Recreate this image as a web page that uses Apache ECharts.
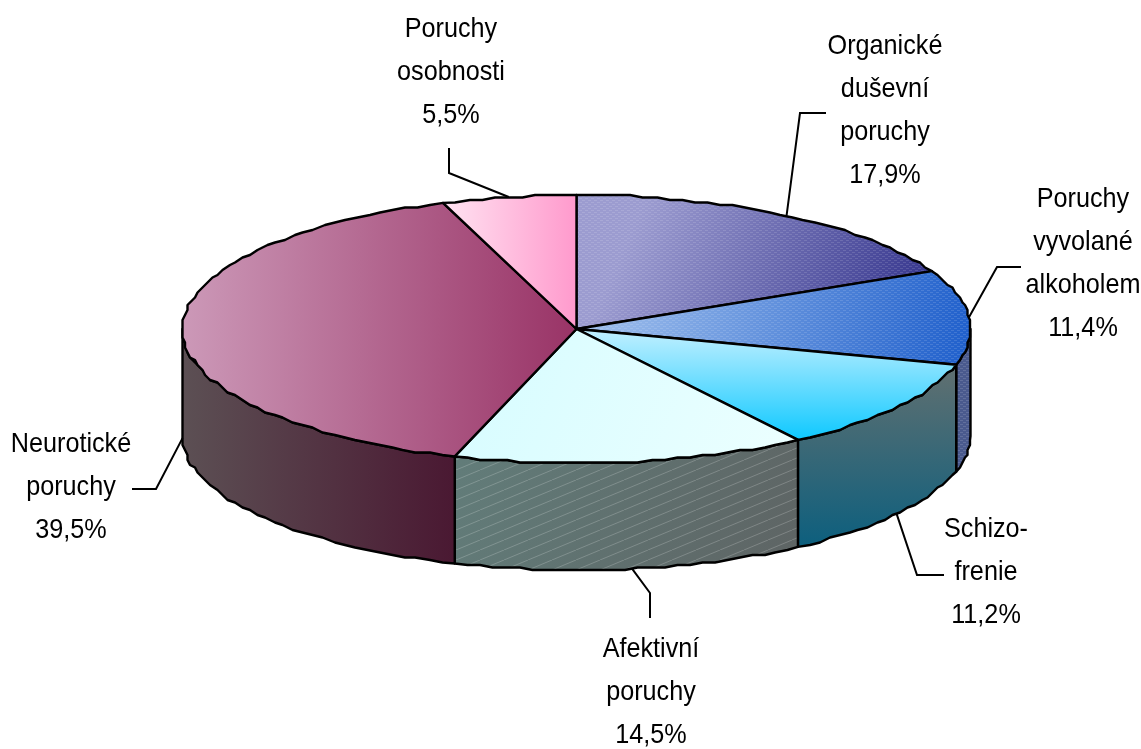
<!DOCTYPE html>
<html><head><meta charset="utf-8">
<style>html,body{margin:0;padding:0;background:#fff}#c{width:1141px;height:749px}</style>
<script src="https://cdn.jsdelivr.net/npm/echarts@6/dist/echarts.min.js"></script>
</head><body><div id="c"></div>
<script>
var categories = ['Organické\nduševní\nporuchy','Poruchy\nvyvolané\nalkoholem','Schizo-\nfrenie','Afektivní\nporuchy','Neurotické\nporuchy','Poruchy\nosobnosti'];
var seriesValues = [17.9,11.4,11.2,14.5,39.5,5.5];

// layout only
var CX=576.5, CY=329, RX=394, RY=134, DEPTH=107;
var labelPos = [[885,111],[1083,264],[986,572],[651,692.5],[71,487],[451,72.5]];
var elbows = [[[800,113],[826,113]],[[997,267],[1021,267]],[[917,575],[944,575]],[[650,593],[650,618]],[[156,489],[132,489]],[[449,173],[449,148]]];
function lg(x,y,x2,y2,a,b){return {type:'linear',x:x,y:y,x2:x2,y2:y2,colorStops:[{offset:0,color:a},{offset:1,color:b}]};}
var topFill = [
 lg(0.2,0,1,0.95,'#9c9cd0','#30308a'),
 lg(0,0,1,0.6,'#a6c4ee','#2060cc'),
 lg(0,0,0,1,'#c4f0ff','#0cc8ff'),
 lg(0,0,1,1,'#d6fcff','#ecffff'),
 lg(0,0,1,0,'#cc99b8','#993366'),
 lg(0,0,1,0,'#ffe4f2','#ff99cc')];
var wallFill = [
 '#000',
 '#4a5a8e',
 lg(0,0,0,1,'#627070','#0c5f7e'),
 lg(0,0,1,1,'#627d7a','#5e6464'),
 lg(0,0,1,0,'#5c5054','#4a1832'),
 '#000'];
function tile(w,h,draw){var c=document.createElement('canvas');c.width=w;c.height=h;draw(c.getContext('2d'));return {image:c,repeat:'repeat'};}
var dots = tile(6,4,function(g){g.fillStyle='rgba(255,255,255,0.13)';g.fillRect(0,0,3,1);g.fillRect(3,2,3,1);});
var hatch = tile(24,10,function(g){g.strokeStyle='rgba(255,255,255,0.2)';g.lineWidth=1;g.beginPath();g.moveTo(0,10);g.lineTo(24,0);g.stroke();});
var topPattern=[dots,dots,null,null,null,null], wallPattern=[null,dots,null,hatch,null,null];

var total=seriesValues.reduce(function(a,b){return a+b;},0);
function pt(t,d){return [CX+RX*Math.sin(t),CY-RY*Math.cos(t)+(d||0)];}
function snap(p){return [Math.round(p[0]/2.5)*2.5,Math.round(p[1]/2.5)*2.5];}
function arc(a,b,d){var n=Math.max(2,Math.ceil((b-a)/0.035)),o=[];for(var i=0;i<=n;i++){var p=pt(a+(b-a)*i/n,d);o.push(i===0||i===n?p:snap(p));}return o;}
function pct(v){return v.toFixed(1).replace('.',',')+'%';}
var STROKE={stroke:'#000',lineWidth:2.4,lineJoin:'round'};
function poly(points,fill,stroke){return {type:'polygon',shape:{points:points},style:Object.assign({fill:fill},stroke?STROKE:{stroke:null,lineWidth:0})};}

function renderItem(params,api){
  var i=params.dataIndex, acc=0;
  for(var k=0;k<i;k++)acc+=seriesValues[k];
  var a=acc/total*2*Math.PI, b=(acc+api.value(0))/total*2*Math.PI, m=(a+b)/2;
  var ch=[];
  // visible outer wall: front half of the ellipse
  var wa=Math.max(a,Math.PI/2), wb=Math.min(b,1.5*Math.PI);
  if(wb>wa){
    var w=arc(wa,wb,0).concat(arc(wa,wb,DEPTH).reverse());
    if(wallPattern[i])ch.push(poly(w,wallFill[i],false),poly(w,wallPattern[i],false),{type:'polygon',shape:{points:w},style:Object.assign({fill:null},STROKE)});
    else ch.push(poly(w,wallFill[i],true));
  }
  var s=[[CX,CY]].concat(arc(a,b,0));
  if(topPattern[i])ch.push(poly(s,topFill[i],false),poly(s,topPattern[i],false),{type:'polygon',shape:{points:s},style:Object.assign({fill:null},STROKE)});
  else ch.push(poly(s,topFill[i],true));
  // leader line from slice midpoint
  var start=pt(m,m>Math.PI/2&&m<1.5*Math.PI?DEPTH:0);
  ch.push({type:'polyline',z2:5,shape:{points:[start].concat(elbows[i])},style:{fill:null,stroke:'#000',lineWidth:2}});
  ch.push({type:'text',z2:6,x:labelPos[i][0],y:labelPos[i][1],scaleX:0.9,
    style:{text:categories[i]+'\n'+pct(api.value(0)),fontFamily:'"Liberation Sans",Arial,sans-serif',fontSize:28,lineHeight:43,fill:'#000',align:'center',verticalAlign:'middle'}});
  return {type:'group',children:ch};
}
var chart=echarts.init(document.getElementById('c'),null,{renderer:'canvas'});
chart.setOption({animation:false,backgroundColor:'#fff',
  series:[{type:'custom',coordinateSystem:'none',silent:true,renderItem:renderItem,data:seriesValues}]});
</script></body></html>
